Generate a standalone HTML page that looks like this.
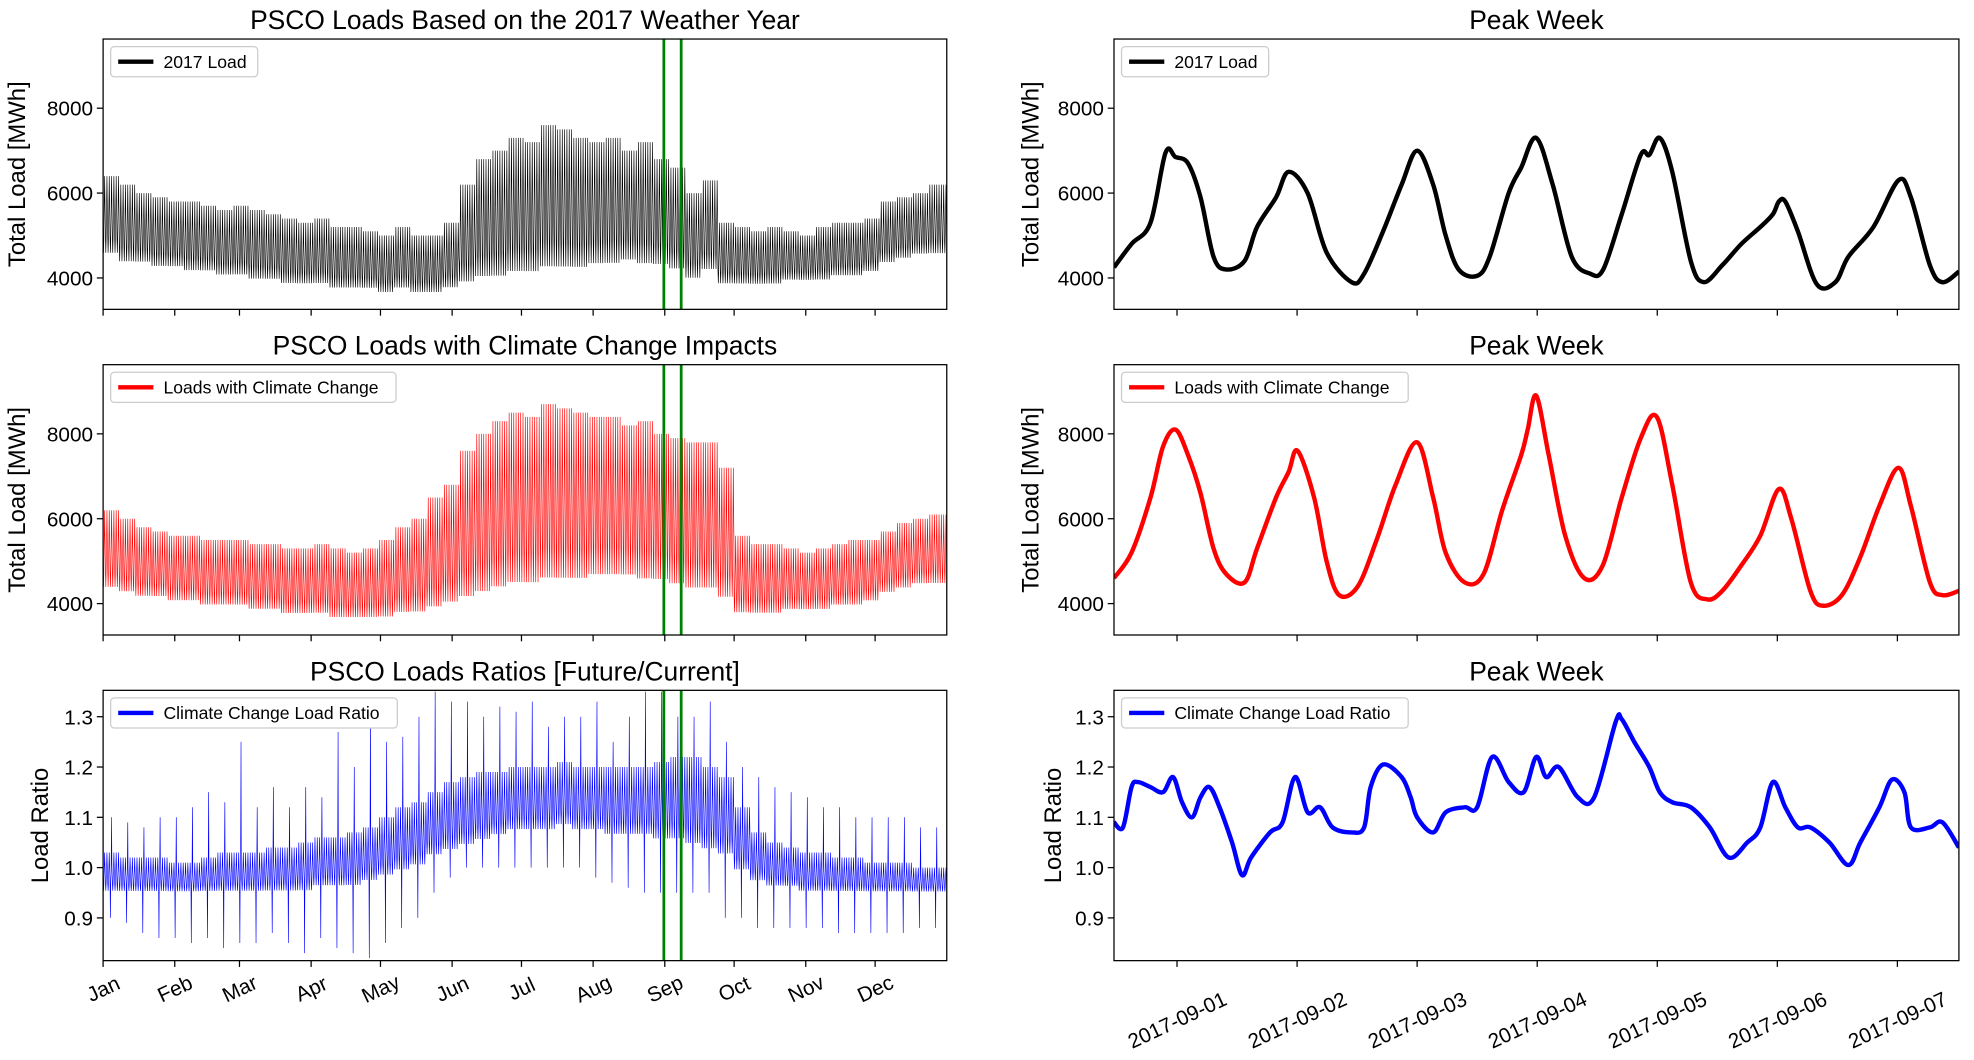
<!DOCTYPE html>
<html><head><meta charset="utf-8">
<style>
html,body{margin:0;padding:0;background:#fff;}
svg text{font-family:"Liberation Sans","DejaVu Sans",sans-serif;fill:#000;}
</style></head>
<body>
<svg id="fig" width="1974" height="1055" viewBox="0 0 1570 839" xmlns="http://www.w3.org/2000/svg">
<rect width="1570" height="839" fill="#fff"/>
</svg>
<script>
// ---------- Data ----------
const months = ['Jan','Feb','Mar','Apr','May','Jun','Jul','Aug','Sep','Oct','Nov','Dec'];
const monthStartDays = [0,31,59,90,120,151,181,212,243,273,304,334];
const peakWeekDays = [242.6, 250.1];
const loadTicks = [4000,6000,8000];
const ratioTicks = [0.9,1.0,1.1,1.2,1.3];
const weekTickLabels = ['2017-09-01','2017-09-02','2017-09-03','2017-09-04','2017-09-05','2017-09-06','2017-09-07'];
const weekTickHours = [12.6,36.6,60.6,84.6,108.6,132.6,156.6];

// weekly daily-high / daily-low envelopes (52 weeks)
const blackHi = [6400,6200,6000,5900,5800,5800,5700,5600,5700,5600,5500,5400,5300,5400,5200,5200,5100,5000,5200,5000,5000,5300,6200,6800,7000,7300,7200,7600,7500,7300,7200,7300,7000,7200,6800,6600,6000,6300,5300,5200,5100,5200,5100,5000,5200,5300,5300,5400,5800,5900,6000,6200];
const blackLo = [4500,4300,4300,4200,4200,4100,4100,4000,4000,3900,3900,3800,3800,3800,3700,3700,3700,3600,3700,3600,3600,3700,3800,3900,3900,4000,4000,4100,4100,4100,4200,4200,4300,4200,4200,4100,3900,4100,3800,3800,3800,3800,3900,3900,3900,4000,4000,4100,4300,4400,4500,4500];
const redHi = [6200,6000,5800,5700,5600,5600,5500,5500,5500,5400,5400,5300,5300,5400,5300,5200,5300,5500,5800,6000,6500,6800,7600,8000,8300,8500,8400,8700,8600,8500,8400,8400,8200,8300,8000,7900,7800,7800,7200,5600,5400,5400,5300,5200,5300,5400,5500,5500,5700,5900,6000,6100];
const redLo = [4300,4200,4100,4100,4000,4000,3900,3900,3900,3800,3800,3700,3700,3700,3600,3600,3600,3600,3700,3700,3800,3900,4000,4100,4200,4300,4300,4400,4400,4400,4500,4500,4500,4400,4400,4300,4200,4200,4000,3700,3700,3700,3800,3800,3800,3900,3900,4000,4200,4300,4400,4400];
const ratioHi = [1.03,1.02,1.02,1.02,1.01,1.01,1.02,1.03,1.03,1.03,1.04,1.04,1.05,1.06,1.06,1.07,1.08,1.10,1.12,1.13,1.15,1.17,1.18,1.19,1.19,1.2,1.2,1.2,1.21,1.2,1.2,1.2,1.2,1.2,1.21,1.22,1.22,1.2,1.18,1.12,1.07,1.05,1.04,1.03,1.03,1.02,1.02,1.01,1.01,1.01,1.0,1.0];
const ratioLo = [0.95,0.95,0.95,0.95,0.95,0.95,0.95,0.95,0.95,0.95,0.95,0.95,0.95,0.96,0.96,0.96,0.97,0.98,0.99,1.0,1.02,1.03,1.04,1.05,1.06,1.07,1.07,1.07,1.08,1.07,1.07,1.06,1.06,1.06,1.05,1.05,1.04,1.03,1.02,0.99,0.97,0.96,0.96,0.95,0.95,0.95,0.95,0.95,0.95,0.95,0.95,0.95];
const ratioSpikeHi = [1.10,1.09,1.08,1.1,1.1,1.12,1.15,1.13,1.25,1.12,1.16,1.12,1.16,1.14,1.27,1.2,1.32,1.25,1.26,1.3,1.35,1.33,1.33,1.3,1.32,1.31,1.33,1.28,1.3,1.3,1.33,1.25,1.3,1.35,1.35,1.3,1.3,1.33,1.25,1.2,1.18,1.16,1.15,1.14,1.12,1.12,1.1,1.1,1.1,1.1,1.08,1.08];
const ratioSpikeLo = [0.9,0.89,0.87,0.86,0.86,0.85,0.86,0.84,0.85,0.85,0.87,0.85,0.83,0.86,0.84,0.83,0.82,0.85,0.88,0.9,0.95,0.98,1.0,1.0,1.0,1.0,1.0,1.0,1.0,1.0,0.98,0.97,0.96,0.95,0.95,0.95,0.95,0.95,0.9,0.9,0.88,0.88,0.88,0.88,0.88,0.87,0.87,0.87,0.87,0.87,0.88,0.88];
// normalized daily load profile (hour, fraction of hi-lo)
const profileHours = [0,4,7,11,16,19,22];
const profileFrac = [0.25,0.05,0.2,0.55,1.0,0.7,0.45];

// peak week (hours since 2017-08-31 11:30)
const wkBlackT = [0,3.5,7.3,10.3,12.3,14.8,17.3,19.9,22.4,26.1,28.6,32.4,34.9,38.7,42.5,47.5,50,53.8,57.5,60.6,63.8,66.3,68.9,72.6,75.1,78.9,81.4,84.4,87.7,91.5,95.2,97.8,101.5,105.3,107,109.1,111.6,115.3,117.9,121.6,125.4,129.2,131.7,132.9,134.2,136.7,140.5,144.2,146.8,151.8,156.8,159.3,163.1,165.6,168.9];
const wkBlackV = [4250,4800,5300,6950,6850,6700,5900,4500,4200,4400,5200,5900,6500,6000,4600,3900,4100,5100,6200,7000,6200,5000,4200,4050,4500,6000,6600,7300,6200,4500,4100,4200,5500,6900,6900,7300,6500,4400,3900,4300,4800,5200,5500,5800,5800,5100,3850,3900,4500,5200,6300,5900,4300,3900,4150];
const wkRedT = [0,3.5,7.3,9.8,12.3,14.8,17.3,19.9,22.4,26.1,28.6,32.4,34.9,36.7,40,42.5,45,48.7,52.5,56.3,60.6,63.8,66.3,70.1,73.9,77.6,81.4,82.7,84.4,86.9,90.2,94,97.7,101.5,105.3,108.5,111.6,115.3,118.6,121.6,125.4,129.2,132.9,135.4,139.2,141.7,145.5,149.2,153,156.8,159.3,163.1,165.6,168.9];
const wkRedV = [4600,5200,6500,7700,8100,7500,6600,5300,4700,4500,5300,6500,7100,7600,6500,5000,4200,4400,5500,6800,7800,6500,5200,4500,4700,6200,7500,8100,8900,7500,5600,4600,4900,6500,7900,8400,6800,4500,4100,4300,4900,5600,6700,6000,4300,3950,4200,5100,6300,7200,6300,4500,4200,4300];
const wkRatioT = [0,1.8,3.5,4.8,7.3,9.8,11.8,13.6,15.6,17.3,19.1,21.1,23.6,25.6,27.4,31.2,33.7,36.2,38.7,41.2,43.7,47.5,50,51.3,53.8,57.5,59.3,60.6,63.8,66.3,70.1,72.6,75.6,78.9,81.9,84.4,86.4,88.9,92.7,96,100.3,101.5,104,107,109.1,111.6,115.3,119.1,122.9,126.6,129.2,131.7,134.2,136.7,139.2,143,146.8,149.2,153,155.5,158,159.3,163.1,165.6,168.9];
const wkRatioV = [1.09,1.08,1.16,1.17,1.16,1.15,1.18,1.13,1.10,1.14,1.16,1.12,1.05,0.985,1.02,1.07,1.09,1.18,1.11,1.12,1.08,1.07,1.08,1.16,1.205,1.18,1.14,1.10,1.07,1.11,1.12,1.12,1.22,1.17,1.15,1.22,1.18,1.20,1.14,1.14,1.29,1.295,1.25,1.20,1.15,1.13,1.12,1.08,1.02,1.05,1.08,1.17,1.12,1.08,1.08,1.05,1.005,1.05,1.12,1.175,1.15,1.08,1.08,1.09,1.04];

// ---------- Drawing ----------
const NS='http://www.w3.org/2000/svg';
const svg=document.getElementById('fig');
function el(tag,attrs,parent){const e=document.createElementNS(NS,tag);for(const k in attrs)e.setAttribute(k,attrs[k]);(parent||svg).appendChild(e);return e;}
function txt(s,attrs,parent){const e=el('text',attrs,parent);e.textContent=s;return e;}

const L={x0:82,x1:753}, R={x0:886,x1:1558};
const rows=[{y0:31,y1:246},{y0:290,y1:505},{y0:549,y1:764}];
const loadDom=[3260,9630], ratioDom=[0.815,1.3525];
function yScale(row,dom){return v=>row.y1-(v-dom[0])/(dom[1]-dom[0])*(row.y1-row.y0);}
const xDay=d=>L.x0+d/365*(L.x1-L.x0);
const xHour=h=>R.x0+h/168.9*(R.x1-R.x0);

function yearPath(hi,lo,extraHi,extraLo){
  const pts=[];
  for(let d=0;d<365;d++){
    const w=Math.min(51,Math.floor(d/7));
    for(let k=0;k<profileHours.length;k++){
      let v=lo[w]+(hi[w]-lo[w])*profileFrac[k];
      if(extraHi && d%7===3){ if(k===1) v=extraLo[w]; if(k===4) v=extraHi[w]; }
      pts.push([d+profileHours[k]/24,v]);
    }
  }
  return pts;
}
function smoothPath(P){
  let d='M'+P[0][0].toFixed(2)+','+P[0][1].toFixed(2);
  for(let i=0;i<P.length-1;i++){
    const p0=P[Math.max(0,i-1)],p1=P[i],p2=P[i+1],p3=P[Math.min(P.length-1,i+2)];
    const c1=[p1[0]+(p2[0]-p0[0])/6,p1[1]+(p2[1]-p0[1])/6];
    const c2=[p2[0]-(p3[0]-p1[0])/6,p2[1]-(p3[1]-p1[1])/6];
    d+=' C'+c1[0].toFixed(2)+','+c1[1].toFixed(2)+' '+c2[0].toFixed(2)+','+c2[1].toFixed(2)+' '+p2[0].toFixed(2)+','+p2[1].toFixed(2);
  }
  return d;
}

function panel(id,row,xr,dom,ticks,fmt,ylabel,ylabX,title,color,lw,pts,xfn,legendText,legendW,isLeft){
  const g=el('g',{});
  
  
  const ys=yScale(row,dom);
  const cp=el('clipPath',{id:'clip-'+id},g);
  el('rect',{x:xr.x0,y:row.y0,width:xr.x1-xr.x0,height:row.y1-row.y0},cp);
  const P=pts.map(p=>[xfn(p[0]),ys(p[1])]);
  let line;
  if(isLeft){
    line=el('polyline',{points:P.map(p=>p[0].toFixed(2)+','+p[1].toFixed(2)).join(' '),fill:'none',stroke:color,'stroke-width':lw,'clip-path':'url(#clip-'+id+')'},g);
  } else {
    line=el('path',{d:smoothPath(P),fill:'none',stroke:color,'stroke-width':lw,'stroke-linejoin':'round','clip-path':'url(#clip-'+id+')'},g);
  }
  
  
  if(isLeft){
    peakWeekDays.forEach((d,i)=>{
      const gl=el('line',{x1:xDay(d),x2:xDay(d),y1:row.y0,y2:row.y1,stroke:'#008000','stroke-width':2.2},g);
      
      
    });
  }
  const fr=el('rect',{x:xr.x0,y:row.y0,width:xr.x1-xr.x0,height:row.y1-row.y0,fill:'none',stroke:'#000','stroke-width':1},g);
  
  
  ticks.forEach(t=>{
    const y=ys(t);
    el('line',{x1:xr.x0-5,x2:xr.x0,y1:y,y2:y,stroke:'#000','stroke-width':1},g);
    const tl=txt(fmt(t),{x:xr.x0-8,y:y+6,'font-size':16.5,'text-anchor':'end'},g);
    
    
  });
  const yl=txt(ylabel,{x:ylabX,y:(row.y0+row.y1)/2,'font-size':19,'text-anchor':'middle',transform:'rotate(-90 '+ylabX+' '+(row.y0+row.y1)/2+')'},g);
  
  
  const tt=txt(title,{x:(xr.x0+xr.x1)/2,y:row.y0-8,'font-size':21,'text-anchor':'middle'},g);
  
  
  const lg=el('g',{},g);
  
  
  el('rect',{x:xr.x0+6,y:row.y0+6,width:legendW,height:24,rx:3,fill:'#fff',stroke:'#ccc','stroke-width':1},lg);
  el('line',{x1:xr.x0+12,x2:xr.x0+40,y1:row.y0+18,y2:row.y0+18,stroke:color,'stroke-width':3.5},lg);
  txt(legendText,{x:xr.x0+48,y:row.y0+23,'font-size':14},lg);
  return ys;
}

const yearBlack=yearPath(blackHi,blackLo);
const yearRed=yearPath(redHi,redLo);
const yearRatio=yearPath(ratioHi,ratioLo,ratioSpikeHi,ratioSpikeLo);
const zip=(a,b)=>a.map((t,i)=>[t,b[i]]);
const f0=v=>String(v), f1=v=>v.toFixed(1);

panel('load-2017',rows[0],L,loadDom,loadTicks,f0,'Total Load [MWh]',20,'PSCO Loads Based on the 2017 Weather Year','#000',0.5,yearBlack,xDay,'2017 Load',117,true);
panel('load-climate',rows[1],L,loadDom,loadTicks,f0,'Total Load [MWh]',20,'PSCO Loads with Climate Change Impacts','#f00',0.5,yearRed,xDay,'Loads with Climate Change',227,true);
panel('load-ratio',rows[2],L,ratioDom,ratioTicks,f1,'Load Ratio',38,'PSCO Loads Ratios [Future/Current]','#00f',0.5,yearRatio,xDay,'Climate Change Load Ratio',228,true);
panel('week-2017',rows[0],R,loadDom,loadTicks,f0,'Total Load [MWh]',826,'Peak Week','#000',3.5,zip(wkBlackT,wkBlackV),xHour,'2017 Load',117,false);
panel('week-climate',rows[1],R,loadDom,loadTicks,f0,'Total Load [MWh]',826,'Peak Week','#f00',3.5,zip(wkRedT,wkRedV),xHour,'Loads with Climate Change',228,false);
panel('week-ratio',rows[2],R,ratioDom,ratioTicks,f1,'Load Ratio',844,'Peak Week','#00f',3.5,zip(wkRatioT,wkRatioV),xHour,'Climate Change Load Ratio',228,false);

// x ticks
rows.forEach((row,ri)=>{
  monthStartDays.forEach((d,i)=>{
    const x=xDay(d);
    el('line',{x1:x,x2:x,y1:row.y1,y2:row.y1+5,stroke:'#000','stroke-width':1});
    if(ri===2){
      const cy=row.y1+22;
      const t=txt(months[i],{x:x,y:cy+6,'font-size':16.5,'text-anchor':'middle',transform:'rotate(-25 '+x+' '+cy+')'});
      
      
    }
  });
  weekTickHours.forEach((h,i)=>{
    const x=xHour(h);
    el('line',{x1:x,x2:x,y1:row.y1,y2:row.y1+5,stroke:'#000','stroke-width':1});
    if(ri===2){
      const cy=row.y1+47;
      const t=txt(weekTickLabels[i],{x:x,y:cy+6,'font-size':16.5,'text-anchor':'middle',transform:'rotate(-25 '+x+' '+cy+')'});
      
      
    }
  });
});
</script>
</body></html>
